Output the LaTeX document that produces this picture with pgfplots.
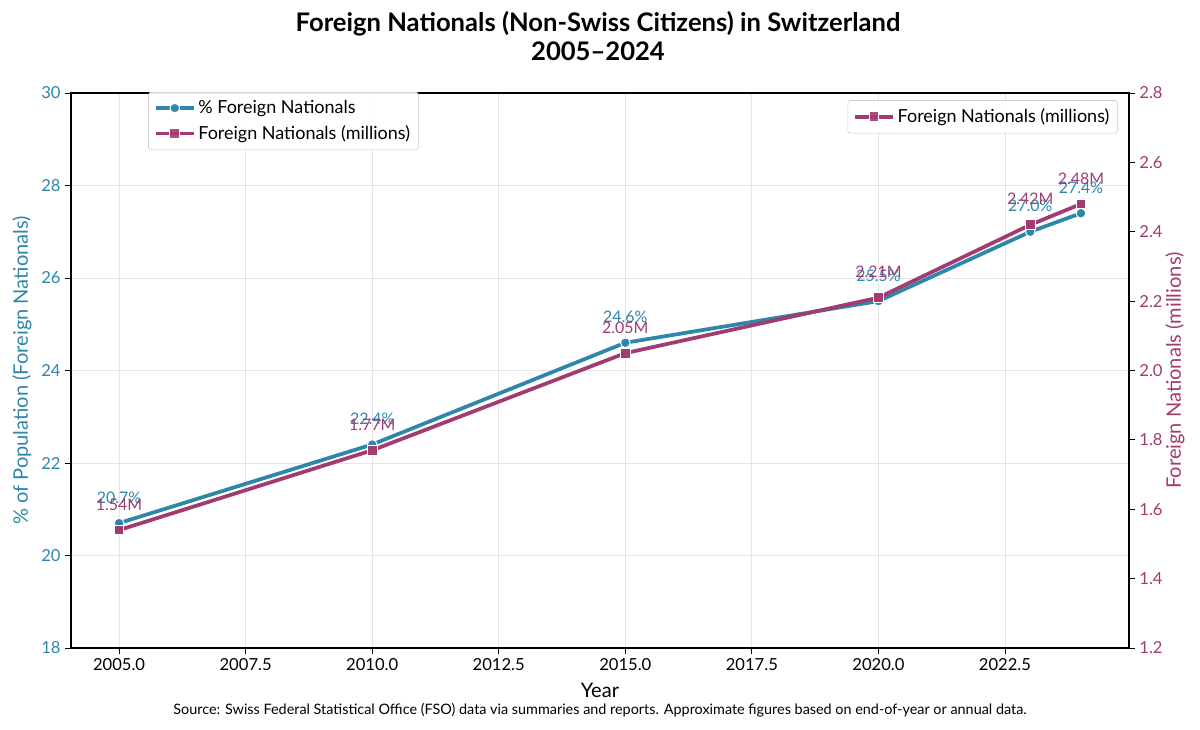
\documentclass[border=0pt]{standalone}
\usepackage{fontspec}
\setmainfont{Lato}
\usepackage{pgfplots}
\pgfplotsset{compat=1.18}
\pgfkeys{/pgf/number format/assume math mode=true, /pgf/number format/1000 sep={}}
\definecolor{cblue}{HTML}{2E86AB}
\definecolor{cmag}{HTML}{A23B72}
\begin{document}
\begin{tikzpicture}
\useasboundingbox (0,0) rectangle (12in,7.3in);
\node[align=center, font=\fontsize{18.5}{21}\selectfont\bfseries] at (5.98in,6.94in) {Foreign Nationals (Non-Swiss Citizens) in Switzerland\\2005–2024};
\begin{axis}[
  at={(0.71in,0.82in)}, anchor=south west, scale only axis,
  width=10.58in, height=5.55in,
  xmin=2004.05, xmax=2024.95, ymin=18, ymax=30,
  xtick={2005,2007.5,2010,2012.5,2015,2017.5,2020,2022.5},
  ytick={18,20,22,24,26,28,30},
  xticklabel style={/pgf/number format/.cd, fixed, fixed zerofill, precision=1, 1000 sep={}, /tikz/.cd, font=\fontsize{12}{14}\selectfont},
  yticklabel style={/pgf/number format/.cd, fixed, precision=0, /tikz/.cd, font=\fontsize{12}{14}\selectfont, text=cblue},
  scaled ticks=false,
  tick align=outside, major tick length=4pt,
  tick style={black, line width=0.7pt},
  xtick pos=bottom, ytick pos=left,
  axis line style={black, line width=0.8pt},
  grid=major, major grid style={black!10, line width=0.6pt},
  xlabel={Year},
  xlabel style={at={(axis description cs:0.5,-0.0757)}, anchor=center, font=\fontsize{14.5}{16}\selectfont},
  ylabel={\% of Population (Foreign Nationals)},
  ylabel style={at={(axis description cs:-0.0463,0.5)}, anchor=center, font=\fontsize{14.5}{16}\selectfont, text=cblue},
  legend style={at={(0.073,1.002)}, anchor=north west, font=\fontsize{13}{15}\selectfont,
    draw=black!20, rounded corners=2pt, fill=white, fill opacity=0.9, text opacity=1,
    row sep=3pt, inner sep=4pt},
  legend cell align=left,
  legend image code/.code={\draw[mark repeat=2,mark phase=2] plot coordinates {(0cm,0cm) (0.48cm,0cm) (0.96cm,0cm)};},
]
\addplot[color=cblue, line width=2.7pt, mark=*, mark size=3.5pt,
  mark options={fill=cblue, draw=white, line width=0.7pt},
  nodes near coords={\pgfmathprintnumber[fixed,fixed zerofill,precision=1]{\pgfplotspointmeta}\%},
  point meta=y,
  every node near coord/.append style={anchor=center, yshift=18.5pt, text=cblue, font=\fontsize{11.5}{13}\selectfont}]
  coordinates {(2005,20.7) (2010,22.4) (2015,24.6) (2020,25.5) (2023,27.0) (2024,27.4)};
\addlegendentry{\% Foreign Nationals}
\addlegendimage{color=cmag, line width=2.7pt, mark=square*, mark size=3.5pt, mark options={fill=cmag, draw=white, line width=0.7pt}}
\addlegendentry{Foreign Nationals (millions)}
\end{axis}
\begin{axis}[
  at={(0.71in,0.82in)}, anchor=south west, scale only axis,
  width=10.58in, height=5.55in,
  xmin=2004.05, xmax=2024.95, ymin=1.2, ymax=2.8,
  axis x line=none, axis y line*=right,
  ytick={1.2,1.4,1.6,1.8,2.0,2.2,2.4,2.6,2.8},
  yticklabel style={/pgf/number format/.cd, fixed, fixed zerofill, precision=1, /tikz/.cd, font=\fontsize{12}{14}\selectfont, text=cmag},
  scaled ticks=false,
  tick align=outside, major tick length=4pt,
  tick style={black, line width=0.7pt},
  axis line style={black, line width=0.8pt},
  ylabel={Foreign Nationals (millions)},
  ylabel style={at={(axis description cs:1.0435,0.5)}, anchor=center, font=\fontsize{14.5}{16}\selectfont, text=cmag},
  legend style={at={(0.9896,0.987)}, anchor=north east, font=\fontsize{13}{15}\selectfont,
    draw=black!20, rounded corners=2pt, fill=white, fill opacity=0.9, text opacity=1, inner sep=4pt},
  legend cell align=left,
  legend image code/.code={\draw[mark repeat=2,mark phase=2] plot coordinates {(0cm,0cm) (0.48cm,0cm) (0.96cm,0cm)};},
]
\addplot[color=cmag, line width=2.7pt, mark=square*, mark size=3.5pt,
  mark options={fill=cmag, draw=white, line width=0.7pt},
  nodes near coords={\pgfmathprintnumber[fixed,fixed zerofill,precision=2]{\pgfplotspointmeta}M},
  point meta=y,
  every node near coord/.append style={anchor=center, yshift=18.5pt, text=cmag, font=\fontsize{11.5}{13}\selectfont}]
  coordinates {(2005,1.54) (2010,1.77) (2015,2.05) (2020,2.21) (2023,2.42) (2024,2.48)};
\addlegendentry{Foreign Nationals (millions)}
\end{axis}
\node[font=\fontsize{10.4}{12}\selectfont] at (6.0in,0.20in) {Source: Swiss Federal Statistical Office (FSO) data via summaries and reports. Approximate figures based on end-of-year or annual data.};
\end{tikzpicture}
\end{document}
